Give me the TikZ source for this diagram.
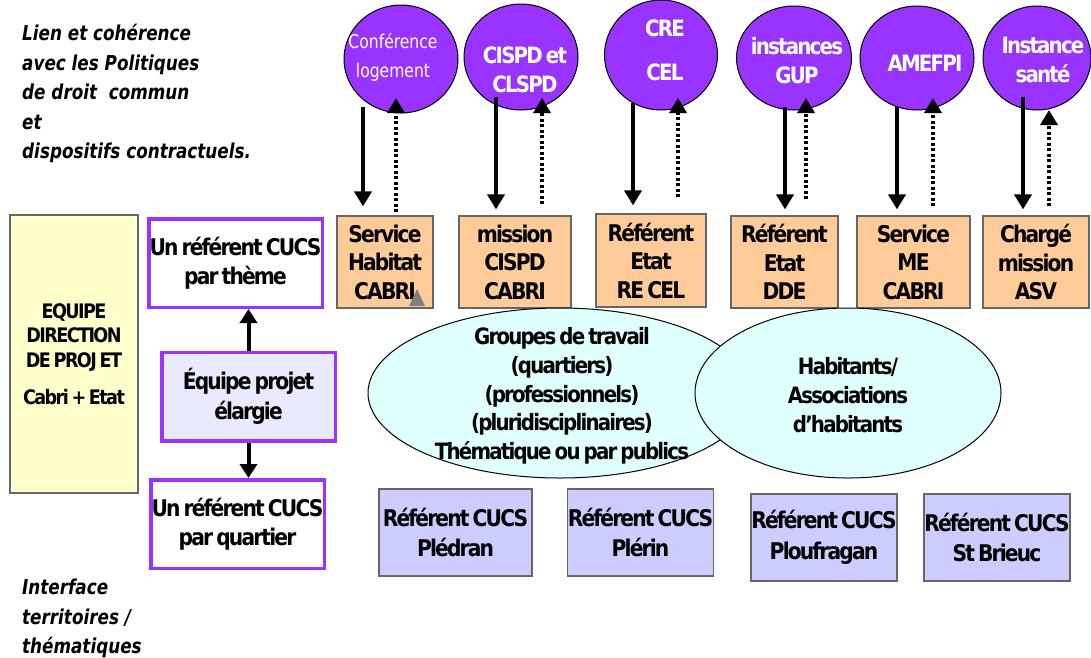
\documentclass[tikz,border=0pt]{standalone}
\usepackage{fontspec}
\setmainfont{DejaVu Sans}[FakeStretch=0.88,LetterSpace=-8,WordSpace=0.6]
\newfontfamily\plainfont{DejaVu Sans}[FakeStretch=0.82]
\usetikzlibrary{shapes.geometric,arrows.meta,calc}
\definecolor{circ}{HTML}{9933FF}
\definecolor{orng}{HTML}{FFCC99}
\definecolor{yel}{HTML}{FFFFCC}
\definecolor{lav}{HTML}{CCCCFF}
\definecolor{lavlight}{HTML}{EAEAFF}
\definecolor{cyanlight}{HTML}{E0FFFF}
\definecolor{boxline}{HTML}{666666}
\definecolor{trigray}{HTML}{808080}
\tikzset{
  circnode/.style={ellipse, draw=black, line width=1pt, fill=circ, inner sep=0pt},
  ctext/.style={text=white, align=center, inner sep=0pt, font=\fontsize{22.5}{29}\selectfont\bfseries},
  obox/.style={draw=boxline, line width=1.2pt, fill=orng, align=center, inner sep=0pt,
    font=\fontsize{23}{28.5}\selectfont\bfseries},
  pbox/.style={draw=circ, line width=3.5pt, fill=white, align=center, inner sep=0pt,
    minimum width=173.5pt, minimum height=88.5pt, font=\fontsize{23}{29.5}\selectfont\bfseries},
  bbox/.style={draw=boxline, line width=1.2pt, fill=lav, align=center, inner sep=0pt,
    minimum height=87pt, font=\fontsize{23}{30.5}\selectfont\bfseries},
  ellnode/.style={ellipse, draw=black, line width=1pt, fill=cyanlight, inner sep=0pt},
  etext/.style={align=center, inner sep=0pt, font=\fontsize{22.5}{28.7}\selectfont\bfseries},
  itext/.style={align=left, inner sep=0pt, anchor=north west,
    font=\plainfont\fontsize{20.5}{29.5}\selectfont\bfseries\itshape},
  solarrow/.style={line width=4pt, -{Triangle[width=17pt,length=15pt]}},
  dotarrow/.style={line width=3.5pt, dash pattern=on 3pt off 2.5pt, -{Triangle[width=17pt,length=15pt]}},
  linkarrow/.style={line width=4pt, -{Triangle[width=17pt,length=14pt]}}
}
\begin{document}
\begin{tikzpicture}[x=1pt,y=-1pt]
\useasboundingbox (0,0) rectangle (1091,657);

% top-left and bottom-left texts
\node[itext] (lien) at (22,24) {Lien et cohérence\\avec les Politiques\\de droit\ \ commun\\et\\dispositifs contractuels.};
\node[itext] (interf) at (22,579) {Interface\\territoires /\\thématiques};

% circles
\node[circnode, minimum width=114pt, minimum height=108pt] (c1) at (401,59) {};
\node[circnode, minimum width=114pt, minimum height=106pt] (c2) at (521,57) {};
\node[circnode, minimum width=113pt, minimum height=110pt] (c3) at (661,55) {};
\node[circnode, minimum width=115pt, minimum height=104pt] (c4) at (794,58) {};
\node[circnode, minimum width=114pt, minimum height=104pt] (c5) at (917,58) {};
\node[circnode, minimum width=108pt, minimum height=104pt] (c6) at (1037,58) {};

\node[ctext, font=\plainfont\fontsize{19}{29}\selectfont] (c1t) at (393,57.5) {Conférence\\logement};
\node[ctext] (c2t) at (525,69.5) {CISPD et\\CLSPD};
\node[ctext] (c3t) at (665,50) {CRE\\[15pt]CEL};
\node[ctext] (c4t) at (797,60.5) {instances\\GUP};
\node[ctext] (c5t) at (925,63) {AMEFPI};
\node[ctext] (c6t) at (1043,60) {Instance\\santé};

% orange boxes
\node[obox, minimum width=96pt, minimum height=92pt] (s1) at (385,262) {Service\\Habitat\\CABRI};
\node[obox, minimum width=112pt, minimum height=92pt] (s2) at (515,262) {mission\\CISPD\\CABRI};
\node[obox, minimum width=110pt, minimum height=93pt] (s3) at (651,260.5) {Référent\\Etat\\RE CEL};
\node[obox, minimum width=107pt, minimum height=92pt] (s4) at (784.5,262) {Référent\\Etat\\DDE};
\node[obox, minimum width=113pt, minimum height=92pt] (s5) at (913.5,262) {Service\\ME\\CABRI};
\node[obox, minimum width=106pt, minimum height=92pt] (s6) at (1036,262) {Chargé\\mission\\ASV};

\fill[trigray] (409,306) -- (425,306) -- (417,289) -- cycle;

% arrows circles <-> boxes
\draw[solarrow] ($(c1.center)+(-38,48)$) -- ($(s1.north)+(-22,-9)$);
\draw[dotarrow] ($(s1.north)+(11,-3)$) -- ($(c1.center)+(-5,39)$);
\draw[solarrow] ($(c2.center)+(-25,40)$) -- ($(s2.north)+(-19,-6)$);
\draw[dotarrow] ($(s2.north)+(27,-11)$) -- ($(c2.center)+(21,41)$);
\draw[solarrow] ($(c3.center)+(-28,48)$) -- ($(s3.north)+(-18,-8)$);
\draw[dotarrow] ($(s3.north)+(27,-16)$) -- ($(c3.center)+(17,43)$);
\draw[solarrow] ($(c4.center)+(-9,49)$) -- ($(s4.north)+(0.5,-6)$);
\draw[dotarrow] ($(s4.north)+(21.5,-16)$) -- ($(c4.center)+(12,40)$);
\draw[solarrow] ($(c5.center)+(-20,49)$) -- ($(s5.north)+(-16.5,-6)$);
\draw[dotarrow] ($(s5.north)+(19.5,-9)$) -- ($(c5.center)+(16,40)$);
\draw[solarrow] ($(c6.center)+(-14,39)$) -- ($(s6.north)+(-13,-6)$);
\draw[dotarrow] ($(s6.north)+(13,-9)$) -- ($(c6.center)+(12,52)$);

% left column
\node[draw=boxline, line width=1.2pt, fill=yel, minimum width=128pt, minimum height=278pt,
  align=center, inner sep=0pt, font=\fontsize{20}{24.5}\selectfont\bfseries] (dir) at (74,354)
  {EQUIPE\\DIRECTION\\DE PROJ ET\\[13pt]Cabri + Etat};
\node[pbox] (t1) at (235.5,263) {Un référent CUCS\\par thème};
\node[pbox, fill=lavlight] (e1) at (248.5,396.5) {Équipe projet\\élargie};
\node[pbox] (q1) at (237.5,524) {Un référent CUCS\\par quartier};
\draw[linkarrow] (e1.north) -- (e1.north |- t1.south);
\draw[linkarrow] (e1.south) -- (e1.south |- q1.north);

% ellipses
\node[ellnode, minimum width=384pt, minimum height=170pt] (g1) at (560,393) {};
\node[ellnode, minimum width=306pt, minimum height=170pt] (h1) at (848,393) {};
\node[etext] (g1t) at (562,396) {Groupes de travail\\(quartiers)\\(professionnels)\\(pluridisciplinaires)\\Thématique ou par publics};
\node[etext] (h1t) at (848,395) {Habitants/\\Associations\\d’habitants};

% bottom boxes
\node[bbox, minimum width=153pt] (b1) at (455.5,532.5) {Référent CUCS\\Plédran};
\node[bbox, minimum width=145pt] (b2) at (640.5,532.5) {Référent CUCS\\Plérin};
\node[bbox, minimum width=146pt] (b3) at (824,537.5) {Référent CUCS\\Ploufragan};
\node[bbox, minimum width=146pt] (b4) at (997,537.5) {Référent CUCS\\St Brieuc};
\end{tikzpicture}
\end{document}
